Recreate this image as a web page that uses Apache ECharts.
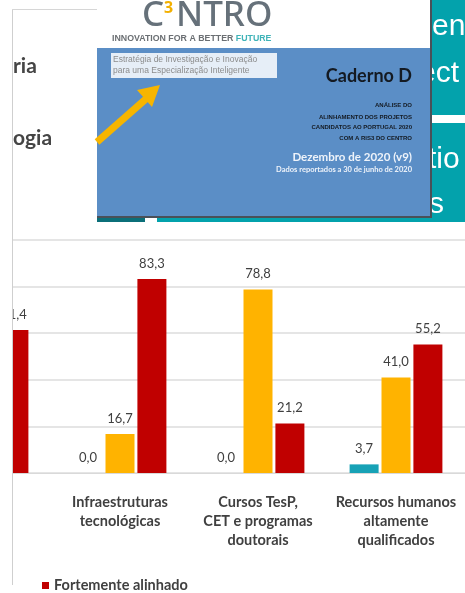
<!DOCTYPE html>
<html>
<head>
<meta charset="utf-8">
<script src="https://cdn.jsdelivr.net/npm/echarts@6/dist/echarts.min.js"></script>
<style>
  html, body { margin: 0; padding: 0; background: #fff; }
  #chart { width: 465px; height: 593px; }
</style>
</head>
<body>
<div id="chart"></div>
<script>
// categorias (a primeira fica quase toda fora da imagem)
const categories = [
  '',
  'Infraestruturas\ntecnológicas',
  'Cursos TesP,\nCET e programas\ndoutorais',
  'Recursos humanos\naltamente\nqualificados'
]
const naoAlinhado = [0.0, 0.0, 0.0, 3.7]
const alinhado = [38.6, 16.7, 78.8, 41.0]
const fortementeAlinhado = [61.4, 83.3, 21.2, 55.2]
const yTicks = [0, 20, 40, 60, 80, 100]

const textColor = '#404040'
const fmt = (p) => p.value.toFixed(1).replace('.', ',')

const barLabel = {
  show: true,
  position: 'top',
  distance: 9,
  formatter: fmt,
  color: textColor,
  fontFamily: 'Lato',
  fontSize: 13
}

// montagem do topo (capa do caderno, painéis)
const Z = 100
const txt = (x, y, text, font, fill, align, z) => ({
  type: 'text', x, y, z: z || Z + 5,
  style: { text, font, fill, textAlign: align || 'left', textVerticalAlign: 'middle' }
})
const rect = (x, y, w, h, fill, z) => ({
  type: 'rect', z: z || Z, shape: { x, y, width: w, height: h }, style: { fill }
})

const graphics = [
  // fundo branco e margem esquerda
  rect(0, 0, 465, 222, '#ffffff', Z),
  rect(0, 222, 12, 371, '#ffffff', Z),
  { type: 'line', z: Z + 1, shape: { x1: 12.5, y1: 9, x2: 12.5, y2: 585 }, style: { stroke: '#cfcfcf', lineWidth: 1 } },
  { type: 'line', z: Z + 1, shape: { x1: 12, y1: 9.5, x2: 97, y2: 9.5 }, style: { stroke: '#d6d6d6', lineWidth: 1 } },
  txt(13, 66, 'ria', 'bold 21px Lato', '#454545'),
  txt(13, 138, 'ogia', 'bold 21px Lato', '#454545'),

  // painel teal à direita
  rect(428, 0, 37, 218, '#03a2ac', Z + 1),
  rect(428, 115, 37, 8, '#ffffff', Z + 2),
  txt(432, 27, 'en', '30px "Liberation Sans"', '#ffffff', 'left', Z + 2),
  txt(419, 74, 'ect', '30px "Liberation Sans"', '#ffffff', 'left', Z + 2),
  txt(428, 160, 'tio', '30px "Liberation Sans"', '#ffffff', 'left', Z + 2),
  txt(429, 205, 's', '30px "Liberation Sans"', '#ffffff', 'left', Z + 2),
  rect(97, 218, 48, 4, '#0b6f79', Z + 2),
  rect(157, 218, 308, 4, '#03a2ac', Z + 2),

  // capa
  rect(97, 0, 334, 48, '#ffffff', Z + 10),
  rect(97, 48, 334, 168, '#5b8ec6', Z + 10),
  rect(97, 216, 335, 2, '#4a5058', Z + 11),
  rect(430, 0, 2, 218, '#4a5058', Z + 11),
  txt(142, 16, 'C', '500 35px "Noto Sans"', '#66717a', 'left', Z + 12),
  txt(164, 8, '3', 'bold 16px "Noto Sans"', '#f2b000', 'left', Z + 13),
  txt(176, 16, 'NTRO', '500 35px "Noto Sans"', '#66717a', 'left', Z + 12),
  {
    type: 'text', x: 112, y: 39, z: Z + 12,
    style: {
      text: '{a|INNOVATION FOR A BETTER }{b|FUTURE}',
      textVerticalAlign: 'middle',
      rich: {
        a: { font: 'bold 8.8px "Liberation Sans"', fill: '#6b6f73' },
        b: { font: 'bold 8.8px "Liberation Sans"', fill: '#3fb3b8' }
      }
    }
  },
  rect(111, 53, 166, 25, 'rgba(255,255,255,0.85)', Z + 12),
  txt(113, 60, 'Estratégia de Investigação e Inovação', '8.5px "Liberation Sans"', '#8c8c8c', 'left', Z + 13),
  txt(113, 71, 'para uma Especialização Inteligente', '8.5px "Liberation Sans"', '#8c8c8c', 'left', Z + 13),
  { type: 'line', z: Z + 12, shape: { x1: 97, y1: 142, x2: 147, y2: 98 }, style: { stroke: '#f7b500', lineWidth: 7 } },
  { type: 'polygon', z: Z + 12, shape: { points: [[160, 85], [152, 107], [137, 90]] }, style: { fill: '#f7b500' } },
  txt(412, 76, 'Caderno D', 'bold 18px Lato', '#141a22', 'right', Z + 12),
  txt(412, 105, 'ANÁLISE DO', 'bold 6px "Liberation Sans"', '#141a22', 'right', Z + 12),
  txt(412, 117, 'ALINHAMENTO DOS PROJETOS', 'bold 6px "Liberation Sans"', '#141a22', 'right', Z + 12),
  txt(412, 127, 'CANDIDATOS AO PORTUGAL 2020', 'bold 6px "Liberation Sans"', '#141a22', 'right', Z + 12),
  txt(412, 138, 'COM A RIS3 DO CENTRO', 'bold 6px "Liberation Sans"', '#141a22', 'right', Z + 12),
  txt(412, 157, 'Dezembro de 2020 (v9)', 'bold 11.5px Lato', '#eef3fa', 'right', Z + 12),
  txt(412, 170, 'Dados reportados a 30 de junho de 2020', 'bold 7.5px Lato', '#eef3fa', 'right', Z + 12)
]

const chart = echarts.init(document.getElementById('chart'))

chart.setOption({
  animation: false,
  backgroundColor: '#ffffff',
  grid: {
    left: -87,
    right: 0,
    top: 240,
    bottom: 120,
    containLabel: false,
    outerBoundsMode: 'none'
  },
  legend: {
    data: ['Fortemente alinhado'],
    left: 42,
    top: 578,
    icon: 'rect',
    itemWidth: 7,
    itemHeight: 7,
    itemGap: 5,
    padding: 0,
    selectedMode: false,
    textStyle: { color: textColor, fontFamily: 'Lato', fontWeight: 'bold', fontSize: 14.5 }
  },
  xAxis: {
    type: 'category',
    data: categories,
    axisLine: { lineStyle: { color: '#d9d9d9', width: 1 } },
    axisTick: { show: false },
    axisLabel: {
      interval: 0,
      margin: 20,
      color: textColor,
      fontFamily: 'Lato',
      fontWeight: 'bold',
      fontSize: 14.5,
      lineHeight: 19
    }
  },
  yAxis: {
    type: 'value',
    min: yTicks[0],
    max: yTicks[yTicks.length - 1],
    interval: 20,
    axisLabel: { show: false },
    axisLine: { show: false },
    splitLine: { lineStyle: { color: '#dcdcdc', width: 1.5 } }
  },
  series: [
    {
      name: 'Não alinhado',
      type: 'bar',
      data: naoAlinhado,
      barWidth: 29,
      barGap: '10%',
      itemStyle: { color: '#17a2b6' },
      label: barLabel
    },
    {
      name: 'Alinhado',
      type: 'bar',
      data: alinhado,
      barWidth: 29,
      barGap: '10%',
      itemStyle: { color: '#ffb300' },
      label: barLabel
    },
    {
      name: 'Fortemente alinhado',
      type: 'bar',
      data: fortementeAlinhado,
      barWidth: 29,
      barGap: '10%',
      itemStyle: { color: '#c00000' },
      label: barLabel
    }
  ],
  graphic: { elements: graphics }
})
</script>
</body>
</html>
